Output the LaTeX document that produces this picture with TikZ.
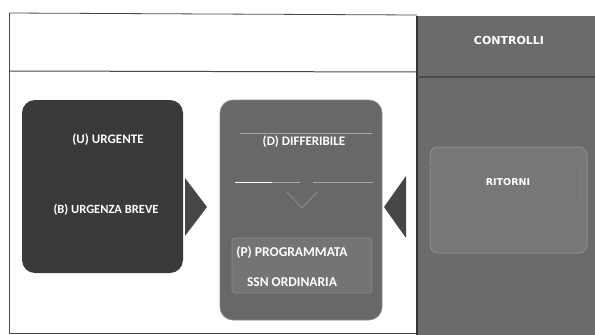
\documentclass[tikz,border=0pt]{standalone}
\usepackage{fontspec}
\setmainfont{Carlito}
\newfontfamily\wideface{DejaVu Sans}
\begin{document}
\begin{tikzpicture}[x=1pt,y=-1pt,
  lbl/.style={text=white,font=\bfseries\fontsize{13}{14}\selectfont,inner sep=1pt},
  wlbl/.style={text=white,font=\wideface\bfseries\fontsize{11}{12}\selectfont,inner sep=1pt},
  dbox/.style={fill=boxdark,draw=none,rounded corners=13pt,inner sep=0pt},
  mbox/.style={fill=boxmid,draw=boxmidline,line width=0.6pt,rounded corners=13pt,inner sep=0pt},
  rbox/.style={fill=boxlight,draw=boxlightline,line width=1pt,rounded corners=8pt,inner sep=0pt},
  tri/.style={fill=tricol,draw=none},
  frame/.style={draw=framecol,line width=0.8pt}]
\definecolor{boxdark}{HTML}{3A3A3A}
\definecolor{boxmid}{HTML}{686868}
\definecolor{boxmidline}{HTML}{8A8A8A}
\definecolor{panel}{HTML}{6B6B6B}
\definecolor{boxlight}{HTML}{777777}
\definecolor{boxlightline}{HTML}{8C8C8C}
\definecolor{tricol}{HTML}{464646}
\definecolor{framecol}{HTML}{4A4A4A}
\definecolor{lightline}{HTML}{A8A8A8}
\useasboundingbox (0,0) rectangle (595,335);
\fill[white] (0,0) rectangle (595,335);
% outer frame
\draw[frame] (9,13) -- (417,15);
\draw[frame] (9,13) -- (9,333) -- (417,333);
\draw[frame,line width=1pt] (9,71) -- (417,72);
% right panel
\node[fill=panel,draw=none,inner sep=0pt,minimum width=178pt,minimum height=319pt] (panel) at (506,175.5) {};
\draw[draw=black!80,line width=1.4pt] (panel.north west) -- (panel.south west);
\draw[draw=black!70,line width=1.4pt] (417,77) -- (595,77);
\node[wlbl] (ctrl) at (509,40) {CONTROLLI};
% ritorni box
\node[rbox,minimum width=157pt,minimum height=106pt] (rit) at (508.5,200) {};
\draw[draw=black!55,line width=0.8pt] (422,167) -- (576,167) -- (576,203);
\node[wlbl,font=\wideface\bfseries\fontsize{9.5}{11}\selectfont] (ritl) at (508,182) {RITORNI};
% left box
\node[dbox,minimum width=161pt,minimum height=173pt] (left) at (102.5,186.5) {};
\node[lbl] (u) at (108,140) {(U) URGENTE};
\node[lbl,font=\bfseries\fontsize{12.5}{14}\selectfont] (b) at (106,210) {(B) URGENZA BREVE};
% middle box
\node[mbox,minimum width=162pt,minimum height=220pt] (mid) at (301,210) {};
\draw[lightline,line width=0.8pt] (240,133) -- (372,133);
\node[lbl] (d) at (304,142) {(D) DIFFERIBILE};
\draw[white,line width=1pt] (235,182) -- (272,182);
\draw[lightline,line width=0.8pt] (272,182) -- (300,182);
\draw[lightline,line width=0.8pt] (313,182) -- (373,182);
\draw[boxmidline,line width=1pt] (287,192) -- (302,208) -- (317,192);
\draw[boxmidline,line width=0.7pt,rounded corners=3pt,fill=boxmid!92!white] (232,238) rectangle (372,293);
\node[lbl,font=\bfseries\fontsize{13.5}{15}\selectfont] (p) at (292,253) {(P) PROGRAMMATA};
\node[lbl,font=\bfseries\fontsize{13.5}{15}\selectfont] (s) at (292,282) {SSN ORDINARIA};
% triangles
\path[tri] (185,178) -- (207,207) -- (185,236) -- cycle;
\path[tri] (406,176) -- (384,207) -- (406,238) -- cycle;
\coordinate (ta) at (207,207);
\coordinate (tb) at (384,207);
\end{tikzpicture}
\end{document}
